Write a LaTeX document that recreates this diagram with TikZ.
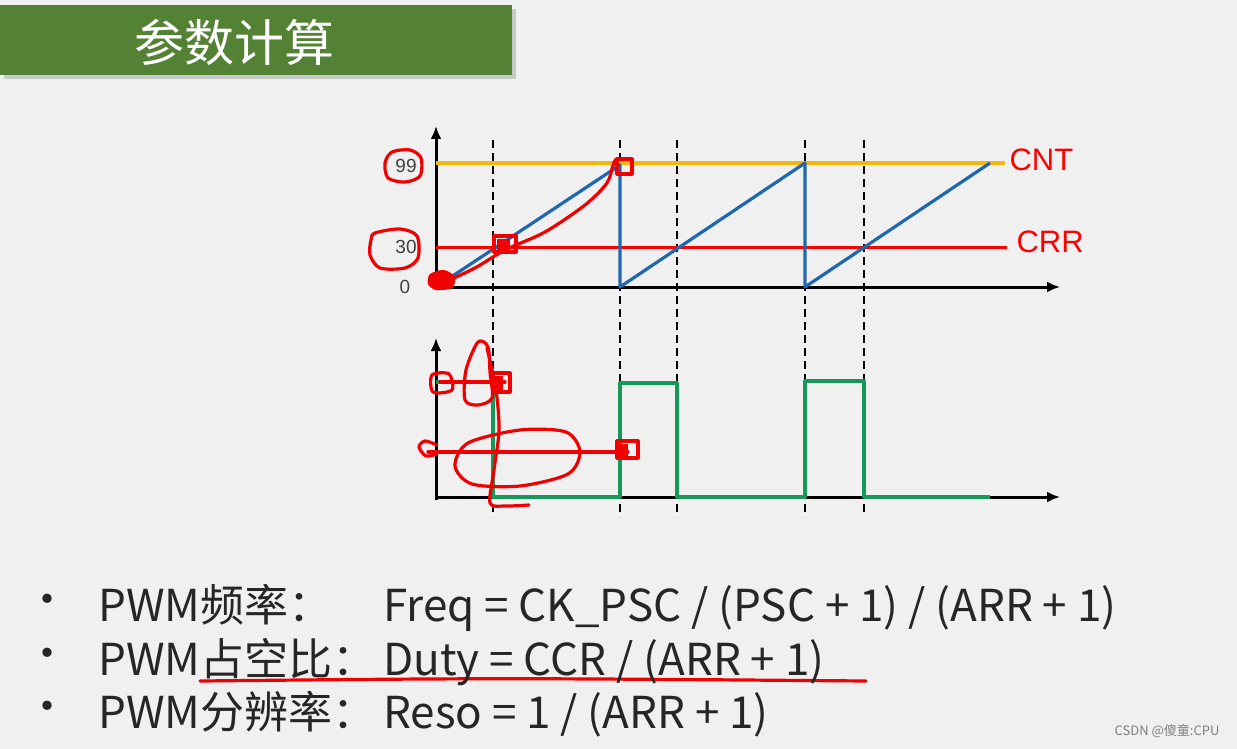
\documentclass[tikz,border=0pt]{standalone}
\usepackage{fontspec}
\usetikzlibrary{arrows.meta}
\setmainfont{Liberation Sans}
\newfontfamily\cjk{Noto Sans CJK SC}
\definecolor{bg}{HTML}{F0F0F0}
\definecolor{titlegreen}{HTML}{548235}
\definecolor{cntyellow}{HTML}{F4B70C}
\definecolor{cntblue}{HTML}{1F68B0}
\definecolor{pwmgreen}{HTML}{17975A}
\definecolor{pen}{HTML}{F00000}

\begin{document}
\begin{tikzpicture}[x=1pt,y=-1pt,>={Latex[length=13pt,width=11pt]}]
        % bakgrunnur
        \fill[bg] (0,0) rectangle (1237,749);
        \useasboundingbox (0,0) rectangle (1237,749);
        % titill
        \fill[black!22] (4,9) rectangle (516,79);
        \fill[titlegreen] (0,5) rectangle (512,75);
        \node[text=white, font=\cjk\fontsize{50}{54}\selectfont] (title) at (234,42) {参数计算};
        % ás
        \coordinate (o1) at (436,287);
        \coordinate (o2) at (436,497);
        \draw[line width=3pt, ->] ([yshift=-3pt]o1) -- (436,126);
        \draw[line width=3pt, ->] (o1) -- (1060,287);
        \draw[line width=3pt, ->] ([yshift=-3pt]o2) -- (436,338);
        \draw[line width=3pt, ->] (o2) -- (1060,497);
        % strik
        \foreach \x in {493,620,677,805,864}
            \draw[line width=1.7pt, dash pattern=on 8pt off 5pt] (\x,140) -- (\x,517);
        % CNT og CRR
        \draw[cntyellow, line width=3.5pt] (436,163) -- (1005,163);
        \draw[red, line width=3pt] (436,247) -- (1007,247);
        \draw[cntblue, line width=3.2pt, line join=round] (o1) -- (620,165) -- (620,287) -- (805,163) -- (805,287) -- (990,163);
        \node[red, font=\fontsize{31}{33}\selectfont, anchor=west] (cnt) at (1006,160) {CNT};
        \node[red, font=\fontsize{31}{33}\selectfont, anchor=west] (crr) at (1013,242) {CRR};
        \node[black!75, font=\fontsize{19}{21}\selectfont] (top) at (406,166) {99};
        \node[black!75, font=\fontsize{19}{21}\selectfont] (mid) at (406,247) {30};
        \node[black!75, font=\fontsize{19}{21}\selectfont] (zero) at (405,287) {0};
        % PWM
        \draw[pwmgreen, line width=3.2pt, line join=round] (436,382) -- (493,382) -- (493,497) -- (620,497) -- (620,383) -- (677,383) -- (677,497) -- (805,497) -- (805,381) -- (864,381) -- (864,497) -- (990,497);
        % penni
        \begin{scope}[pen, line width=3.2pt, line cap=round, line join=round]
            \draw plot[smooth cycle] coordinates {(392,152) (410,150) (421,158) (420,176) (405,182) (388,178) (385,163)};
            \draw plot[smooth cycle] coordinates {(375,233) (400,229) (417,236) (418,258) (405,268) (380,268) (370,255) (371,240)};
            \fill plot[smooth cycle] coordinates {(430,274) (444,270) (455,277) (452,288) (436,290) (428,284)};
            \draw plot[smooth] coordinates {(445,282) (475,268) (505,250) (545,232) (585,205) (607,183) (613,165) (616,159)};
            \draw (494,236) rectangle (516,252);
            \fill (497,239) rectangle (510,250);
            \draw (617,159) rectangle (632,174);
            % neðri
            \draw plot[smooth cycle] coordinates {(432,375) (449,374) (452,390) (433,392)};
            \draw (440,382) -- (505,382);
            \draw (493,373) rectangle (510,392);
            \fill (493,376) rectangle (503,390);
            \draw plot[smooth cycle] coordinates {(478,342) (488,347) (490,372) (492,398) (478,405) (465,400) (466,370)};
            \draw plot[smooth] coordinates {(487,348) (496,390) (499,430) (494,470) (490,503) (505,506) (529,505)};
            \draw plot[smooth cycle] coordinates {(520,430) (566,432) (580,452) (568,474) (520,486) (472,484) (455,466) (468,443)};
            \draw (428,452) -- (628,452);
            \draw plot[smooth] coordinates {(437,445) (425,441) (419,447) (426,456) (437,454)};
            \draw (617,441) rectangle (638,458);
            \fill (617,444) rectangle (628,457);
            % undirstrikun
            \draw (200,681) .. controls (500,678) .. (866,681);
        \end{scope}
        % formúlur
        \begin{scope}[font=\cjk\fontsize{44}{48}\selectfont, text=black!85]
            \node (b1) at (47,605) {•};
            \node (b2) at (47,659) {•};
            \node (b3) at (47,712) {•};
            \node[anchor=base west, inner sep=0pt] (l1) at (98,621) {PWM频率：};
            \node[anchor=base west, inner sep=0pt] (l2) at (98,675) {PWM占空比：};
            \node[anchor=base west, inner sep=0pt] (l3) at (98,728) {PWM分辨率：};
            \node[anchor=base west, inner sep=0pt] (f1) at (383,621) {Freq = CK\_PSC / (PSC + 1) / (ARR + 1)};
            \node[anchor=base west, inner sep=0pt] (f2) at (383,675) {Duty = CCR / (ARR + 1)};
            \node[anchor=base west, inner sep=0pt] (f3) at (383,728) {Reso = 1 / (ARR + 1)};
        \end{scope}
        % vatnsmerki
        \node[black!50, font=\cjk\fontsize{13}{15}\selectfont, anchor=east] (mark) at (1223,731) {CSDN @傻童:CPU};
\end{tikzpicture}
\end{document}
